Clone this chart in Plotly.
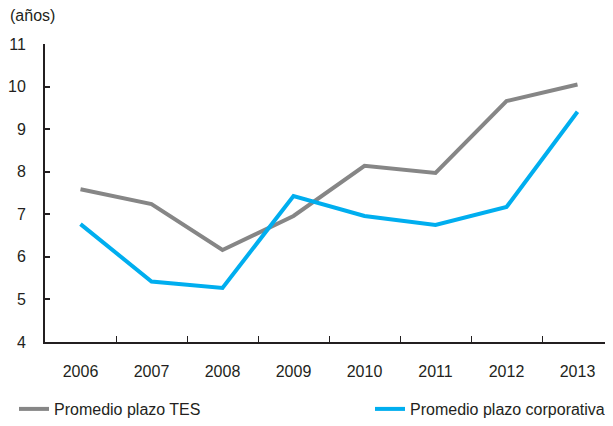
import plotly.graph_objects as go

years = ["2006", "2007", "2008", "2009", "2010", "2011", "2012", "2013"]
tes = [7.59, 7.24, 6.16, 6.96, 8.14, 7.97, 9.66, 10.05]
corporativa = [6.77, 5.42, 5.27, 7.43, 6.96, 6.75, 7.17, 9.41]
y_ticks = [4, 5, 6, 7, 8, 9, 10, 11]

FONT = "Liberation Sans, Arial, sans-serif"
W, H = 605, 418  # page body has an 8px default margin

fig = go.Figure()
fig.add_trace(go.Scatter(x=years, y=tes, mode="lines", name="Promedio plazo TES",
                         line=dict(color="#868686", width=4), legend="legend"))
fig.add_trace(go.Scatter(x=years, y=corporativa, mode="lines", name="Promedio plazo corporativa",
                         line=dict(color="#00AEEF", width=4), legend="legend2"))

leg_common = dict(orientation="h", xref="container", yref="container",
                  y=-0.015, xanchor="left", yanchor="bottom",
                  font=dict(family=FONT, size=16, color="#231f20"),
                  bgcolor="rgba(0,0,0,0)")

fig.update_layout(
    width=W, height=H,
    margin=dict(l=37, r=0, t=36, b=84, autoexpand=False),
    paper_bgcolor="white", plot_bgcolor="white",
    font=dict(family=FONT, size=16, color="#231f20"),
    showlegend=True,
    legend=dict(x=6 / W, **leg_common),
    legend2=dict(x=362 / W, **leg_common),
    annotations=[dict(text="(años)", xref="paper", yref="paper",
                      x=(0 - 37) / 568, y=(334 - 7) / 298, xanchor="left", yanchor="middle",
                      showarrow=False, font=dict(family=FONT, size=16, color="#231f20"))],
)
fig.update_xaxes(type="category", range=[-0.5, 7.5], showgrid=False, zeroline=False,
                 automargin=False,
                 showline=True, linecolor="#231f20", linewidth=2,
                 ticks="inside", tickson="boundaries", ticklen=6, tickcolor="#231f20", tickwidth=1,
                 ticklabelstandoff=14)
fig.update_yaxes(range=[4, 11], tickvals=y_ticks, showgrid=False, zeroline=False,
                 automargin=False,
                 showline=True, linecolor="#231f20", linewidth=2,
                 ticks="inside", ticklen=5, tickcolor="#231f20", tickwidth=2,
                 ticklabelstandoff=14)

fig.write_html("out.html")
